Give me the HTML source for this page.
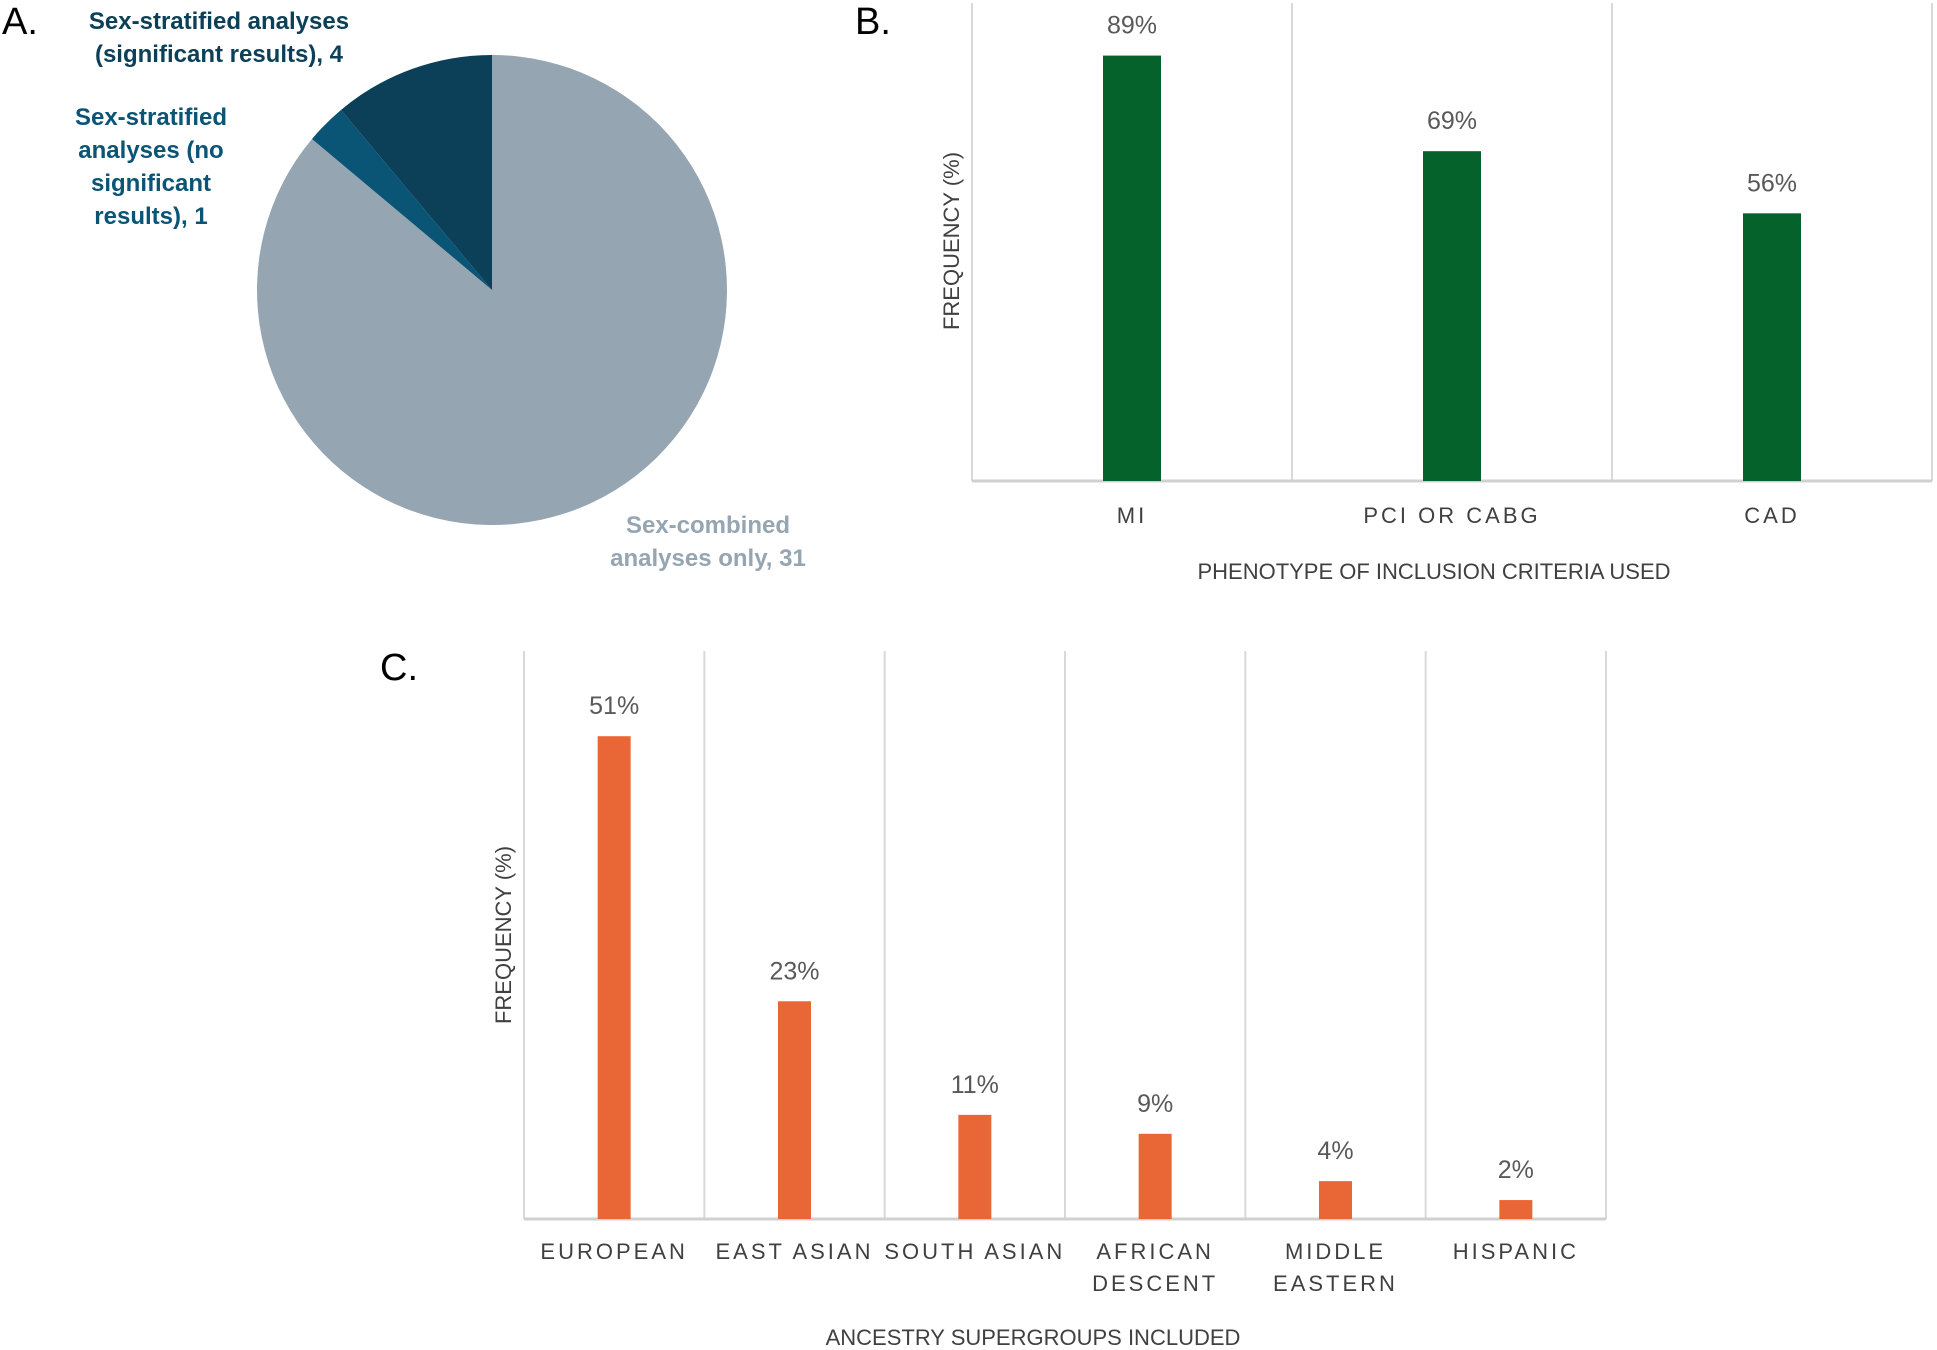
<!DOCTYPE html>
<html><head><meta charset="utf-8">
<style>
html,body{margin:0;padding:0;background:#fff;}
svg{display:block;font-family:"Liberation Sans",sans-serif;}
.pl{font-family:"Liberation Sans Narrow","Liberation Sans",sans-serif;font-weight:bold;font-size:24px;}
.val{fill:#595959;font-size:25px;font-family:"Liberation Sans Narrow","Liberation Sans",sans-serif;}
.cat{fill:#404040;font-size:22px;letter-spacing:3px;}
.ttl{fill:#404040;font-size:22px;font-family:"Liberation Sans Narrow","Liberation Sans",sans-serif;}
.yt{fill:#404040;font-size:22px;}
.panel{font-size:38px;fill:#000;}
</style></head>
<body>
<svg id="fig" width="1937" height="1350" viewBox="0 0 1937 1350">
<text class="panel" x="2" y="34">A.</text>
<text class="panel" x="855" y="34">B.</text>
<text class="panel" x="380" y="680">C.</text>
<g id="pie"></g>
<text class="pl" fill="#0b4058" text-anchor="middle" x="219" y="29"><tspan x="219">Sex-stratified analyses</tspan><tspan x="219" dy="33">(significant results), 4</tspan></text>
<text class="pl" fill="#0a5475" text-anchor="middle" x="151" y="125"><tspan x="151">Sex-stratified</tspan><tspan x="151" dy="33">analyses (no</tspan><tspan x="151" dy="33">significant</tspan><tspan x="151" dy="33">results), 1</tspan></text>
<text class="pl" fill="#95a5b2" text-anchor="middle" x="708" y="533"><tspan x="708">Sex-combined</tspan><tspan x="708" dy="33">analyses only, 31</tspan></text>
<g id="chartB"></g>
<g id="chartC"></g>
</svg>
<script>
const pieLabels=["Sex-combined analyses only","Sex-stratified analyses (no significant results)","Sex-stratified analyses (significant results)"];
const pieValues=[31,1,4];
const pieColors=["#95a5b2","#0a5475","#0b4058"];

const bCats=[["MI"],["PCI OR CABG"],["CAD"]];
const bValues=[89,69,56];
const bLabels=["89%","69%","56%"];

const cCats=[["EUROPEAN"],["EAST ASIAN"],["SOUTH ASIAN"],["AFRICAN","DESCENT"],["MIDDLE","EASTERN"],["HISPANIC"]];
const cValues=[51,23,11,9,4,2];
const cLabels=["51%","23%","11%","9%","4%","2%"];

const NS="http://www.w3.org/2000/svg";
function mk(tag,attrs,parent){const e=document.createElementNS(NS,tag);for(const k in attrs)e.setAttribute(k,attrs[k]);parent.appendChild(e);return e;}

(function(){
  const g=document.getElementById('pie');
  const cx=492,cy=290,r=235;
  const tot=pieValues.reduce((a,b)=>a+b,0);
  let a0=-Math.PI/2;
  pieValues.forEach((v,i)=>{
    const a1=a0+v/tot*2*Math.PI;
    const large=(a1-a0)>Math.PI?1:0;
    const d=`M${cx},${cy} L${cx+r*Math.cos(a0)},${cy+r*Math.sin(a0)} A${r},${r} 0 ${large} 1 ${cx+r*Math.cos(a1)},${cy+r*Math.sin(a1)} Z`;
    const p=mk('path',{d:d,fill:pieColors[i]},g);
    
    
    a0=a1;
  });
})();

function barChart(g,cats,vals,labs,o){
  const y=v=>o.base-(v/o.max)*(o.base-o.top);
  const n=cats.length, w=(o.x1-o.x0)/n;
  for(let i=0;i<=n;i++){
    const l=mk('line',{x1:o.x0+i*w,x2:o.x0+i*w,y1:o.top,y2:o.base,stroke:'#d9d9d9','stroke-width':2},g);
    
    
  }
  const ax=mk('line',{x1:o.x0,x2:o.x1,y1:o.base,y2:o.base,stroke:'#d0d0d0','stroke-width':3},g);
  
  
  cats.forEach((c,i)=>{
    const cx=o.x0+(i+0.5)*w;
    const b=mk('rect',{x:cx-o.bw/2,y:y(vals[i]),width:o.bw,height:o.base-y(vals[i]),fill:o.color},g);
    
    
    const t=mk('text',{x:cx,y:y(vals[i])-22,'text-anchor':'middle','class':'val'},g);
    t.textContent=labs[i];
    
    
    const ct=mk('text',{x:cx,y:o.catY,'text-anchor':'middle','class':'cat'},g);
    
    
    c.forEach((line,j)=>{const ts=mk('tspan',{x:cx,dy:j?32:0},ct);ts.textContent=line;});
  });
  const xt=mk('text',{x:o.xtX,y:o.xtY,'text-anchor':'middle','class':'ttl'},g);
  xt.textContent=o.xt;
  
  
  const yt=mk('text',{x:0,y:0,'text-anchor':'middle','class':'yt',transform:`translate(${o.ytX},${o.ytY}) rotate(-90)`},g);
  yt.textContent='FREQUENCY (%)';
  
  
}
barChart(document.getElementById('chartB'),bCats,bValues,bLabels,
  {x0:972,x1:1932,top:3,base:481,max:100,bw:58,color:'#05622a',catY:523,xtX:1434,xtY:579,xt:'PHENOTYPE OF INCLUSION CRITERIA USED',ytX:959,ytY:241});
barChart(document.getElementById('chartC'),cCats,cValues,cLabels,
  {x0:524,x1:1606,top:651,base:1219,max:60,bw:33,color:'#e96737',catY:1259,xtX:1033,xtY:1345,xt:'ANCESTRY SUPERGROUPS INCLUDED',ytX:511,ytY:935});
</script>
</body></html>
